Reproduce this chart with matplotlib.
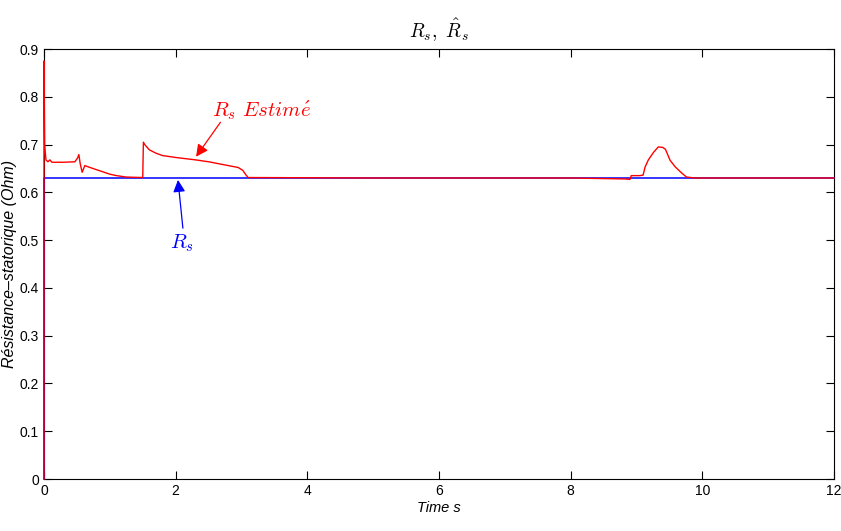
import matplotlib
matplotlib.use("Agg")
import matplotlib.pyplot as plt
import numpy as np

plt.rcParams['mathtext.fontset'] = 'cm'
plt.rcParams['font.family'] = ['Liberation Sans', 'DejaVu Sans']

# Reference (true) stator resistance
t_ref = [0.0, 0.0, 12.0]
rs_ref = [0.0, 0.63, 0.63]

# Estimated stator resistance
t_est = [0.0, 0.0, 0.01, 0.03, 0.06, 0.09, 0.12, 0.3, 0.47, 0.51, 0.53, 0.55, 0.58, 0.62,
         0.7, 0.85, 1.0, 1.1, 1.25, 1.5, 1.51, 1.53, 1.6, 1.7, 1.8, 2.0, 2.3, 2.5,
         2.8, 2.95, 3.02, 3.06, 3.1, 5.0, 8.0, 8.83, 8.9, 8.92, 9.05, 9.1, 9.13,
         9.18, 9.26, 9.33, 9.4, 9.44, 9.51, 9.59, 9.69, 9.76, 9.89, 12.0]
rs_est = [0.0, 0.875, 0.70, 0.668, 0.664, 0.668, 0.663, 0.663, 0.664, 0.672, 0.679, 0.660, 0.642, 0.656,
          0.652, 0.645, 0.638, 0.635, 0.632, 0.631, 0.705, 0.700, 0.689, 0.682, 0.677, 0.673, 0.668, 0.664,
          0.656, 0.652, 0.646, 0.638, 0.631, 0.630, 0.630, 0.628, 0.627, 0.635, 0.635, 0.636, 0.653,
          0.668, 0.684, 0.695, 0.694, 0.690, 0.667, 0.653, 0.640, 0.632, 0.630, 0.630]

x_ticks = [0, 2, 4, 6, 8, 10, 12]
y_ticks = [0, 0.1, 0.2, 0.3, 0.4, 0.5, 0.6, 0.7, 0.8, 0.9]
y_tick_labels = ['0', '0.1', '0.2', '0.3', '0.4', '0.5', '0.6', '0.7', '0.8', '0.9']

fig = plt.figure(figsize=(8.41, 5.31), dpi=100)
ax = fig.add_axes([0.0523, 0.0979, 0.9394, 0.8098])

ax.plot(t_ref, rs_ref, color='#0000ff', lw=1.1, clip_on=False, zorder=3)
ax.plot(t_est, rs_est, color='#ff0000', lw=1.0, clip_on=False, zorder=4)

ax.set_xlim(0, 12)
ax.set_ylim(0, 0.9)
ax.set_xticks(x_ticks)
ax.set_xticklabels([str(v) for v in x_ticks])
ax.set_yticks(y_ticks)
ax.set_yticklabels(y_tick_labels)
ax.tick_params(direction='in', top=True, right=True, labelsize=10, length=6, width=0.8)

ax.set_title(r'$R_s,\ \hat{R}_s$', fontsize=14, pad=8)
ax.set_xlabel('Time s', style='italic', fontsize=10.5, labelpad=2)
ax.set_ylabel('Résistance–statorique (Ohm)', style='italic', fontsize=11.5, labelpad=2)

ax.text(3.3, 0.771, r'$R_s\ Estim\acute{e}$', color='#ff0000', fontsize=15,
        ha='center', va='center')
ax.annotate('', xy=(2.31, 0.6746), xytext=(2.68, 0.7466),
            arrowprops=dict(arrowstyle='-|>', color='#ff0000', lw=0.9,
                            mutation_scale=18, shrinkA=0, shrinkB=0))
ax.text(2.09, 0.494, r'$R_s$', color='#0000ff', fontsize=15,
        ha='center', va='center')
ax.annotate('', xy=(2.035, 0.626), xytext=(2.11, 0.525),
            arrowprops=dict(arrowstyle='-|>', color='#0000ff', lw=0.9,
                            mutation_scale=18, shrinkA=0, shrinkB=0))

fig.savefig('out.png', dpi=100)
